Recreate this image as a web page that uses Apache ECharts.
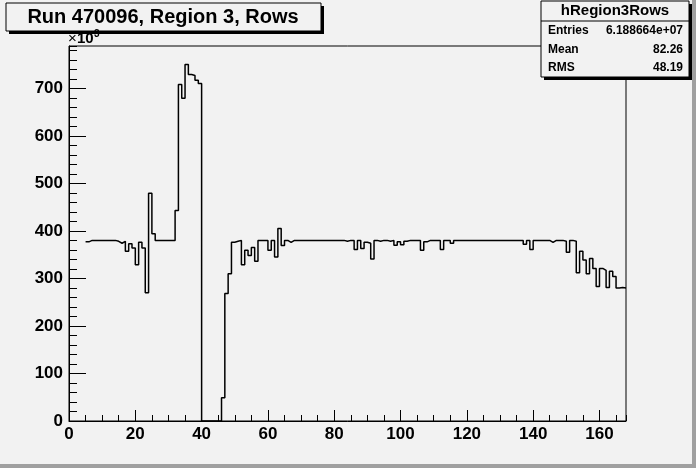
<!DOCTYPE html>
<html><head><meta charset="utf-8">
<script src="https://cdn.jsdelivr.net/npm/echarts@6/dist/echarts.min.js"></script>
<style>html,body{margin:0;padding:0;background:#f2f2f2}#c{width:696px;height:468px}</style>
</head><body><div id="c"></div>
<script>
// Histogram hRegion3Rows: bin contents (units of 10^3), bins 0..167 (bin width 1)
const firstBin = 0;
const binValues = [
  null,null,null,null,null,377,380,380,380,380, // 0-9
  380,380,380,380,378,374,378,357,373,364,     // 10-19
  329,376,364,270,479,394,380,380,380,380,     // 20-29
  380,380,443,708,679,750,729,727,717,710,     // 30-39
  0,0,0,0,0,0,49,268,310,376,                  // 40-49
  378,380,329,359,348,365,336,380,380,380,     // 50-59
  359,380,345,405,369,380,376,380,380,380,     // 60-69
  380,380,380,380,380,380,380,380,380,380,     // 70-79
  380,380,380,378,380,380,361,380,363,376,     // 80-89
  374,341,380,378,380,380,378,380,370,377,     // 90-99
  371,378,380,380,380,380,359,377,380,380,     // 100-109
  380,380,361,380,380,374,380,380,380,380,     // 110-119
  380,380,380,380,380,380,380,380,380,380,     // 120-129
  380,380,380,380,380,380,380,372,380,361,     // 130-139
  380,380,380,380,380,376,380,380,380,378,     // 140-149
  355,380,378,312,357,339,310,342,321,283,     // 150-159
  321,317,281,315,304,280,281,280              // 160-167
];
const xTicks = [0, 20, 40, 60, 80, 100, 120, 140, 160];
const yTicks = [0, 100, 200, 300, 400, 500, 600, 700];
const titleText = 'Run 470096, Region 3, Rows';
const statsName = 'hRegion3Rows';
const statsLabels = ['Entries', 'Mean', 'RMS'];
const statsValues = ['6.188664e+07', '82.26', '48.19'];

const xMax = 168, yMax = 789;
const pts = [];
binValues.forEach((v, i) => { if (v !== null) pts.push([firstBin + i, v]); });
pts.push([firstBin + binValues.length, binValues[binValues.length - 1]]);

const F = 'Liberation Sans, Arial, Helvetica, sans-serif';
const chart = echarts.init(document.getElementById('c'), null, {renderer: 'canvas'});
const statsY = [31, 50, 68];
const graphics = [
  // canvas border bands
  {type: 'rect', shape: {x: 692, y: 0, width: 4, height: 468}, style: {fill: '#a0a0a0'}, z: 200},
  {type: 'rect', shape: {x: 0, y: 464, width: 696, height: 4}, style: {fill: '#a0a0a0'}, z: 200},
  // title box
  {type: 'rect', shape: {x: 9, y: 6, width: 315, height: 28}, style: {fill: '#000'}, z: 100},
  {type: 'rect', shape: {x: 6, y: 3, width: 315, height: 28}, style: {fill: '#f2f2f2', stroke: '#000', lineWidth: 1}, z: 101},
  {type: 'text', x: 163, y: 17, style: {text: titleText, font: 'bold 20px ' + F, fill: '#000', align: 'center', verticalAlign: 'middle'}, z: 102},
  // stats box
  {type: 'rect', shape: {x: 544, y: 4, width: 148, height: 76}, style: {fill: '#000'}, z: 100},
  {type: 'rect', shape: {x: 541, y: 1, width: 148, height: 76}, style: {fill: '#f2f2f2', stroke: '#000', lineWidth: 1}, z: 101},
  {type: 'line', shape: {x1: 541, y1: 21, x2: 689, y2: 21}, style: {stroke: '#000', lineWidth: 1}, z: 102},
  {type: 'text', x: 615, y: 11, style: {text: statsName, font: 'bold 15px ' + F, fill: '#000', align: 'center', verticalAlign: 'middle'}, z: 102},
  // x10^3 multiplier
  {type: 'text', x: 68, y: 39, style: {text: '×', font: '15px ' + F, fill: '#000', align: 'left', verticalAlign: 'middle'}, z: 102},
  {type: 'text', x: 77, y: 39, style: {text: '10', font: 'bold 15px ' + F, fill: '#000', align: 'left', verticalAlign: 'middle'}, z: 102},
  {type: 'text', x: 94, y: 34, style: {text: '3', font: 'bold 10px ' + F, fill: '#000', align: 'left', verticalAlign: 'middle'}, z: 102}
];
statsLabels.forEach((t, i) => {
  graphics.push({type: 'text', x: 548, y: statsY[i], style: {text: t, font: 'bold 12px ' + F, fill: '#000', align: 'left', verticalAlign: 'middle'}, z: 102});
  graphics.push({type: 'text', x: 683, y: statsY[i], style: {text: statsValues[i], font: 'bold 12px ' + F, fill: '#000', align: 'right', verticalAlign: 'middle'}, z: 102});
});

const labelStyle = {color: '#000', fontFamily: F, fontWeight: 'bold', fontSize: 17};
chart.setOption({
  backgroundColor: '#f2f2f2',
  animation: false,
  grid: {left: 69, right: 70, top: 46, bottom: 47, show: true, borderColor: '#000', borderWidth: 1, backgroundColor: '#f2f2f2'},
  xAxis: [
    {type: 'value', position: 'bottom', min: 0, max: xMax, interval: 20,
     axisLine: {show: true, lineStyle: {color: '#000', width: 1}},
     axisTick: {show: true, inside: true, length: 11, lineStyle: {color: '#000'}},
     axisLabel: {...labelStyle, margin: 5, showMaxLabel: false,
       formatter: v => xTicks.includes(v) ? String(v) : ''},
     splitLine: {show: false}},
    {type: 'value', position: 'bottom', min: 0, max: xMax, interval: 5,
     axisLine: {show: false}, axisLabel: {show: false},
     axisTick: {show: true, inside: true, length: 6, lineStyle: {color: '#000'}},
     splitLine: {show: false}}
  ],
  yAxis: [
    {type: 'value', position: 'left', min: 0, max: yMax, interval: 100,
     axisLine: {show: true, lineStyle: {color: '#000', width: 1}},
     axisTick: {show: true, inside: true, length: 17, lineStyle: {color: '#000'}},
     axisLabel: {...labelStyle, margin: 6, showMaxLabel: false,
       formatter: v => yTicks.includes(v) ? String(v) : ''},
     splitLine: {show: false}},
    {type: 'value', position: 'left', min: 0, max: yMax, interval: 20,
     axisLine: {show: false}, axisLabel: {show: false},
     axisTick: {show: true, inside: true, length: 8, lineStyle: {color: '#000'}},
     splitLine: {show: false}}
  ],
  series: [{
    type: 'line', step: 'end', xAxisIndex: 0, yAxisIndex: 0,
    data: pts, showSymbol: false, symbol: 'none',
    lineStyle: {color: '#000', width: 1.5}, z: 5
  }],
  graphic: graphics
});
</script></body></html>
